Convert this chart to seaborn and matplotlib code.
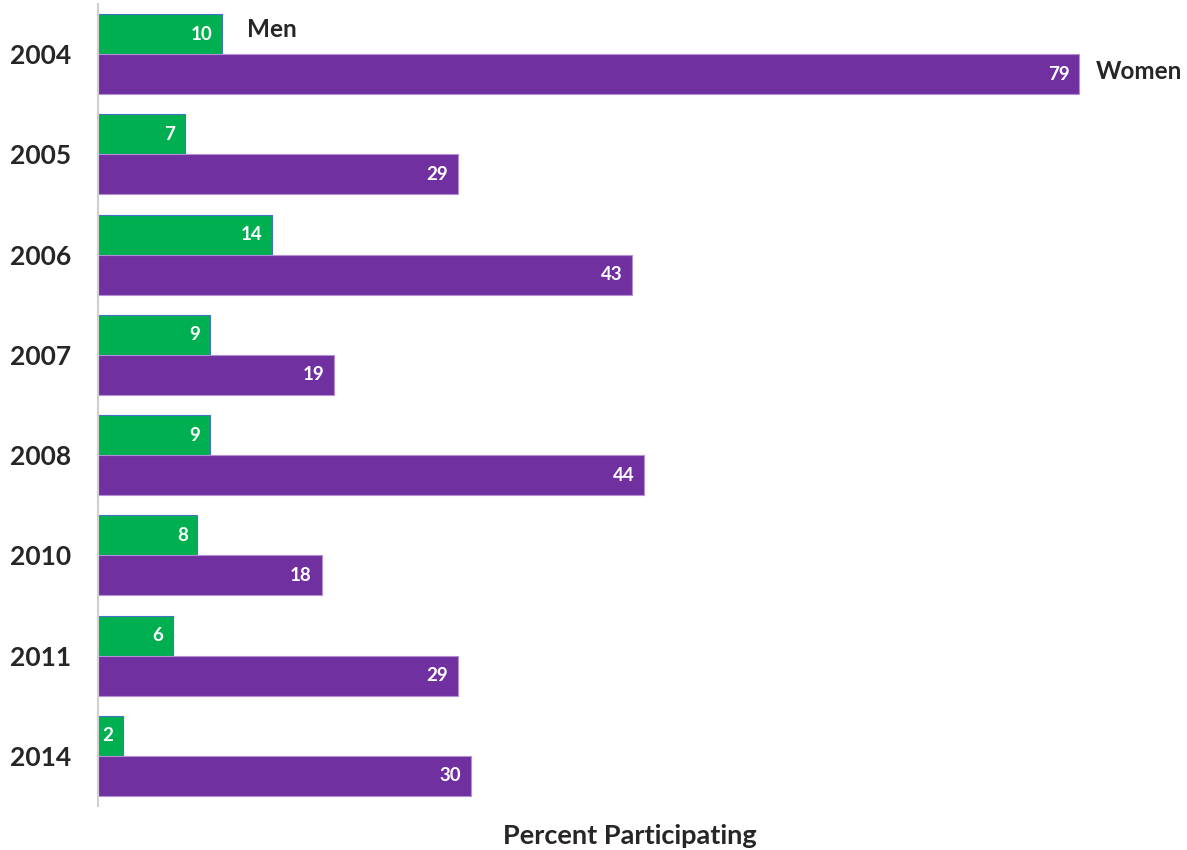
import matplotlib
matplotlib.use('Agg')
import matplotlib.pyplot as plt
import seaborn as sns
import pandas as pd

# dados
anos = ['2004', '2005', '2006', '2007', '2008', '2010', '2011', '2014']
homens = [10, 7, 14, 9, 9, 8, 6, 2]
mulheres = [79, 29, 43, 19, 44, 18, 29, 30]
grupos = ['Men', 'Women']

sns.set_style('white')
plt.rcParams['font.family'] = ['Lato', 'DejaVu Sans']

df = pd.DataFrame({'Ano': anos * 2,
                   'Grupo': ['Men'] * len(anos) + ['Women'] * len(anos),
                   'Valor': homens + mulheres})

fig = plt.figure(figsize=(11.87, 8.5), dpi=100)
ax = fig.add_axes([98 / 1187, 44 / 850, (1162 - 98) / 1187, 802 / 850])

sns.barplot(data=df, y='Ano', x='Valor', hue='Grupo', order=anos, hue_order=grupos,
            palette=['#00B050', '#7030A0'], saturation=1, width=0.8, orient='h',
            ax=ax, legend=False)

# bordas e rótulos de valor dentro das barras
for cont, cor in zip(ax.containers, ['#4472C4', '#B48FD6']):
    for p in cont:
        p.set_edgecolor(cor)
        p.set_linewidth(0.8)
        w = p.get_width()
        yc = p.get_y() + p.get_height() / 2
        ax.annotate(f'{w:.0f}', (w, yc), xytext=(-7, 0), textcoords='offset points',
                    ha='right', va='center', color='white', fontsize=13.5,
                    fontweight='bold')

ax.set_xlim(0, (1162 - 98) / 12.42)
ax.set_ylim(7.5, -0.5)
ax.set_xticks([])
ax.set_ylabel('')
ax.set_xlabel('Percent Participating', fontsize=19.5, fontweight='bold', labelpad=13)
ax.tick_params(axis='y', length=0, pad=19, labelsize=19)
for lbl in ax.get_yticklabels():
    lbl.set_fontweight('bold')

for s in ['top', 'right', 'bottom']:
    ax.spines[s].set_visible(False)
ax.spines['left'].set_color('#D0D0D0')
ax.spines['left'].set_linewidth(1.5)

# rótulos de série no primeiro grupo
ax.text(homens[0] + 2, -0.25, 'Men', fontsize=17.5, fontweight='bold', va='center')
ax.text(mulheres[0] + 1.3, 0.17, 'Women', fontsize=17.5, fontweight='bold', va='center')

fig.savefig('out.png', dpi=100)
